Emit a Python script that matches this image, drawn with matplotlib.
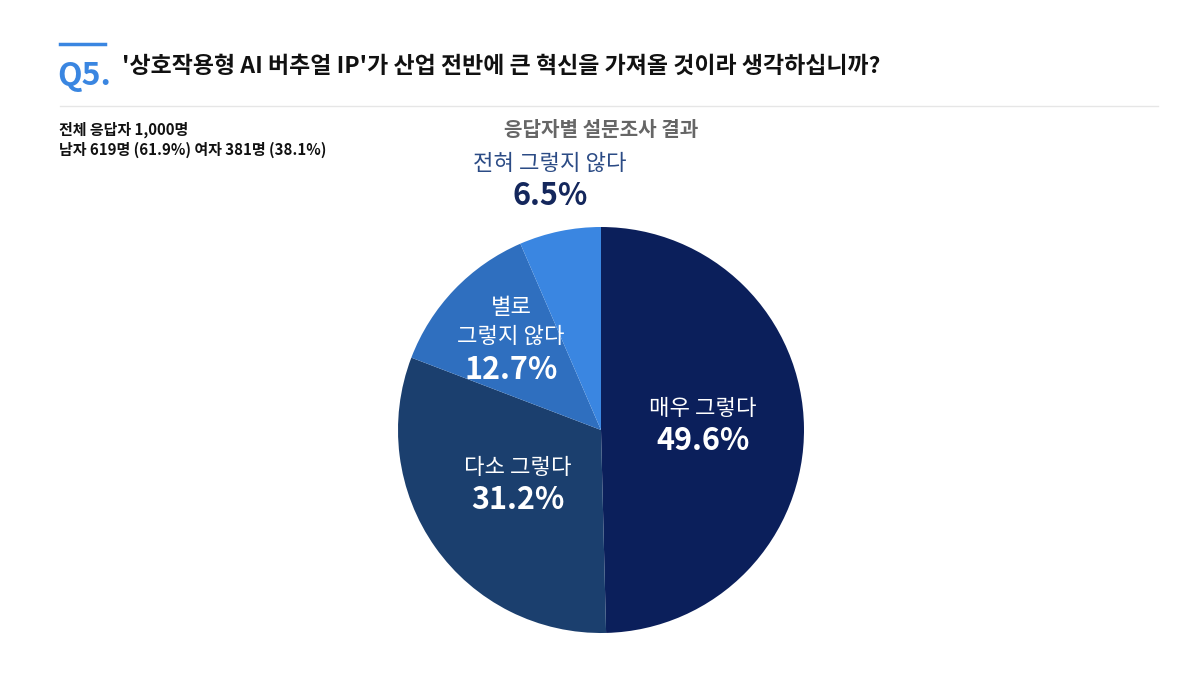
import matplotlib
matplotlib.use('Agg')
import matplotlib.pyplot as plt
from matplotlib.lines import Line2D

plt.rcParams['font.family'] = ['Noto Sans CJK KR', 'DejaVu Sans']

labels = ['매우 그렇다', '다소 그렇다', '별로\n그렇지 않다', '전혀 그렇지 않다']
values = [49.6, 31.2, 12.7, 6.5]
colors = ['#0b1f5b', '#1b3f6e', '#2f6fbf', '#3a86e1']

title = "'상호작용형 AI 버추얼 IP'가 산업 전반에 큰 혁신을 가져올 것이라 생각하십니까?"
info = '전체 응답자 1,000명\n남자 619명 (61.9%) 여자 381명 (38.1%)'
subtitle = '응답자별 설문조사 결과'

W, H = 1200, 679
fig = plt.figure(figsize=(W / 100, H / 100), dpi=100)

def px(x, y):
    return x / W, 1 - y / H

# header
fig.add_artist(Line2D([60 / W, 105 / W], [1 - 44 / H] * 2, color='#3a86e1', lw=2.5))
fig.text(*px(57, 76), 'Q5.', color='#3a86e1', fontsize=23, fontweight='bold', va='center')
fig.text(*px(122, 66), title, color='#111111', fontsize=16.5, fontweight='bold', va='center')
fig.add_artist(Line2D([60 / W, 1158 / W], [1 - 106 / H] * 2, color='#e6e6e6', lw=1))

fig.text(*px(59, 140), info, color='#111111', fontsize=10.8, fontweight='bold',
         va='center', linespacing=1.3)
fig.text(*px(601, 129), subtitle, color='#666666', fontsize=14.5, fontweight='bold',
         ha='center', va='center')

# pie
r_px = 203
cx, cy = 601, 430
ax = fig.add_axes([(cx - r_px) / W, (H - cy - r_px) / H, 2 * r_px / W, 2 * r_px / H])
ax.pie(values, colors=colors, startangle=90, counterclock=False, radius=1,
       wedgeprops=dict(linewidth=0))
ax.set_xlim(-1, 1)
ax.set_ylim(-1, 1)
ax.axis('off')

def d(x, y):
    return (x - cx) / r_px, (cy - y) / r_px

# label anchors: centre of the first label line
label_pos = [(703, 408), (518, 467), (511, 307), (550, 163)]
for i, (lab, v) in enumerate(zip(labels, values)):
    x, y = label_pos[i]
    n = lab.count('\n')
    pct_y = y + 33 + n * 30
    if i == 3:
        c1, c2 = '#2b4b85', '#14275c'
    else:
        c1, c2 = 'white', 'white'
    ax.text(*d(x, y + n * 15), lab, color=c1, fontsize=16, fontweight='light',
            ha='center', va='center', linespacing=1.3)
    ax.text(*d(x, pct_y), f'{v}%', color=c2, fontsize=22, fontweight='bold',
            ha='center', va='center')

fig.savefig('out.png', dpi=100, facecolor='white')
